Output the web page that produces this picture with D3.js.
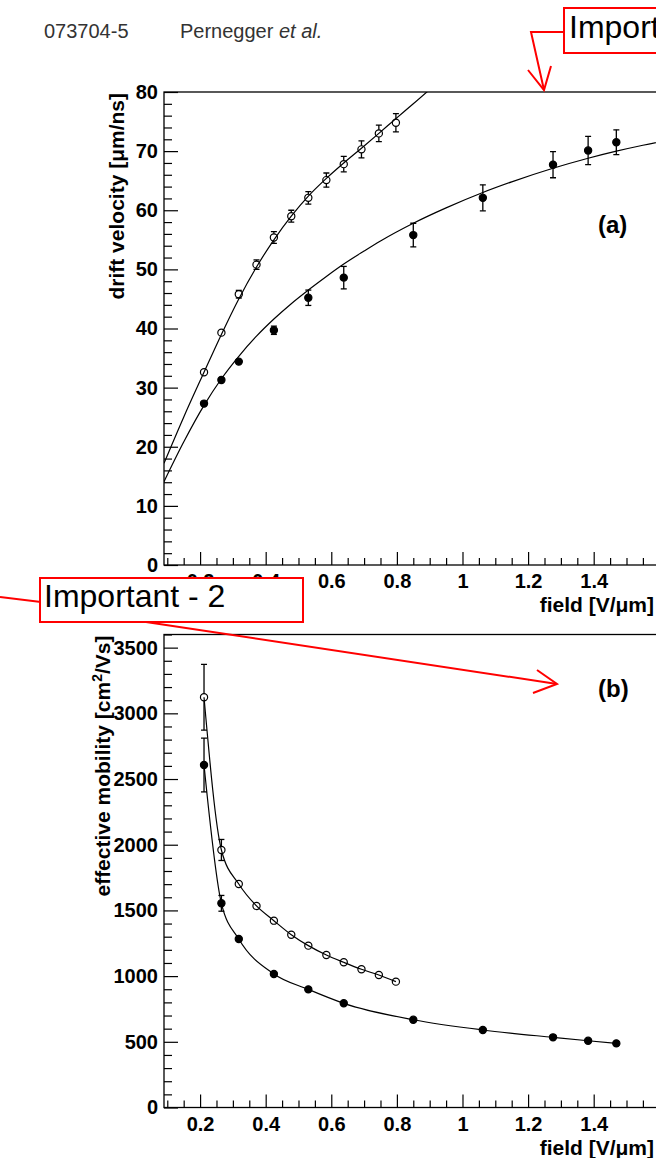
<!DOCTYPE html>
<html>
<head>
<meta charset="utf-8">
<script src="https://cdn.jsdelivr.net/npm/d3@7"></script>
<style>
  body { margin: 0; background: #fff; }
  svg { display: block; }
  text { font-family: "Liberation Sans", Arial, Helvetica, sans-serif; }
</style>
</head>
<body>
<svg id="chart" width="656" height="1158"></svg>
<script>
// measured field values [V/um]
const fieldOpen   = [0.212, 0.265, 0.318, 0.372, 0.425, 0.478, 0.530, 0.585, 0.638, 0.692, 0.745, 0.797];
const fieldFilled = [0.212, 0.265, 0.318, 0.425, 0.530, 0.638, 0.850, 1.062, 1.276, 1.383, 1.469];

// (a) drift velocity [um/ns]
const velocityOpen      = [32.6, 39.3, 45.8, 50.8, 55.4, 59.0, 62.1, 65.1, 67.8, 70.3, 73.0, 74.8];
const velocityOpenErr   = [0.3, 0.5, 0.65, 0.8, 1.0, 1.0, 1.05, 1.2, 1.3, 1.45, 1.4, 1.55];
const velocityFilled    = [27.3, 31.3, 34.4, 39.7, 45.2, 48.6, 55.8, 62.1, 67.7, 70.1, 71.5];
const velocityFilledErr = [0.3, 0.4, 0.5, 0.7, 1.3, 1.9, 2.0, 2.2, 2.2, 2.4, 2.1];

// (a) fit curves
const fitOpenField    = [0.09, 0.15, 0.212, 0.265, 0.318, 0.372, 0.425, 0.478, 0.53, 0.585, 0.638, 0.692, 0.745, 0.797, 0.85, 0.92];
const fitOpenVelocity = [17.2, 25.0, 32.6, 39.0, 45.0, 50.4, 55.0, 59.0, 62.4, 65.4, 68.0, 70.5, 73.0, 75.5, 78.0, 81.4];
const fitFilledField    = [0.09, 0.15, 0.212, 0.265, 0.318, 0.372, 0.425, 0.478, 0.53, 0.585, 0.638, 0.7, 0.75, 0.85, 0.95, 1.062, 1.15, 1.276, 1.383, 1.469, 1.55, 1.65];
const fitFilledVelocity = [14.1, 20.8, 27.0, 31.5, 35.3, 38.7, 41.6, 44.2, 46.5, 48.8, 50.9, 53.1, 54.8, 57.8, 60.4, 63.0, 64.8, 67.1, 68.8, 70.0, 71.0, 72.1];

// (b) effective mobility [cm^2/Vs]
const mobilityOpen      = [3122, 1960, 1701, 1534, 1422, 1315, 1232, 1161, 1105, 1052, 1008, 958];
const mobilityOpenErr   = [250, 80, 25, 20, 20, 15, 15, 15, 15, 15, 15, 15];
const mobilityFilled    = [2607, 1554, 1282, 1016, 899, 793, 668, 590, 534, 508, 488];
const mobilityFilledErr = [205, 60, 25, 20, 15, 15, 10, 10, 10, 10, 10];

// ticks
const fieldTicks = [0.2, 0.4, 0.6, 0.8, 1.0, 1.2, 1.4];
const fieldTickLabels = ["0.2", "0.4", "0.6", "0.8", "1", "1.2", "1.4"];
const fieldMinorTicks = d3.range(2, 33).map(i => i * 0.05).filter(v => Math.abs(v * 5 - Math.round(v * 5)) > 1e-6);
const velocityTicks = [0, 10, 20, 30, 40, 50, 60, 70, 80];
const velocityTickLabels = ["0", "10", "20", "30", "40", "50", "60", "70", "80"];
const velocityMinorTicks = d3.range(0, 81, 2).filter(v => v % 10 !== 0);
const mobilityTicks = [0, 500, 1000, 1500, 2000, 2500, 3000, 3500];
const mobilityTickLabels = ["0", "500", "1000", "1500", "2000", "2500", "3000", "3500"];
const mobilityMinorTicks = d3.range(0, 3601, 100).filter(v => v % 500 !== 0);

const svg = d3.select("#chart");
const RED = "#ff0000";

// shared x scale (both panels have the same field axis)
const x = d3.scaleLinear().domain([0.09, 1.65]).range([164, 675.7]);

function drawPanel(opts) {
    const y = d3.scaleLinear().domain(opts.yDomain).range(opts.yRange);
    const top = opts.yRange[1], bottom = opts.yRange[0];
    const left = x.range()[0], right = x.range()[1];
    const g = svg.append("g");

    g.append("clipPath").attr("id", opts.id + "-clip")
        .append("rect").attr("x", left).attr("y", top)
        .attr("width", right - left).attr("height", bottom - top);

    // y axis, ticks pointing into the frame
    g.append("g").attr("transform", `translate(${left},0)`)
        .call(d3.axisLeft(y).tickValues(opts.yTicks).tickSizeInner(-14).tickSizeOuter(0).tickPadding(6)
            .tickFormat((d, i) => opts.yTickLabels[i]));
    g.append("g").attr("transform", `translate(${left},0)`)
        .call(d3.axisLeft(y).tickValues(opts.yMinor).tickSizeInner(-8).tickSizeOuter(0).tickFormat(""));

    // x axis
    g.append("g").attr("transform", `translate(0,${bottom})`)
        .call(d3.axisBottom(x).tickValues(fieldTicks).tickSizeInner(-13).tickSizeOuter(0).tickPadding(9)
            .tickFormat((d, i) => fieldTickLabels[i]));
    g.append("g").attr("transform", `translate(0,${bottom})`)
        .call(d3.axisBottom(x).tickValues(fieldMinorTicks).tickSizeInner(-7).tickSizeOuter(0).tickFormat(""));

    g.selectAll(".domain").remove();
    g.selectAll(".tick line").attr("stroke", "#000").attr("stroke-width", 1.2);
    g.selectAll(".tick text").attr("fill", "#000").style("font-size", "20px").style("font-weight", "bold");

    // frame
    g.append("rect").attr("x", left).attr("y", top)
        .attr("width", right - left).attr("height", bottom - top)
        .attr("fill", "none").attr("stroke", "#000").attr("stroke-width", 1.3);

    // y title
    const yTitle = g.append("text")
        .attr("transform", `translate(${opts.yTitleX},${top + 1}) rotate(-90)`)
        .attr("text-anchor", "end")
        .style("font-size", "21px").style("font-weight", "bold");
    opts.yTitle(yTitle);

    // x title
    g.append("text").attr("x", 654).attr("y", bottom + 47)
        .attr("text-anchor", "end")
        .style("font-size", "21px").style("font-weight", "bold")
        .text("field [V/\u03bcm]");

    // panel tag
    g.append("text").attr("x", 598).attr("y", opts.tagY)
        .style("font-size", "24px").style("font-weight", "bold")
        .text(opts.tag);

    const plot = g.append("g").attr("clip-path", `url(#${opts.id}-clip)`);
    const line = d3.line().x(d => x(d[0])).y(d => y(d[1])).curve(d3.curveMonotoneX);

    opts.curves.forEach(c => {
        plot.append("path")
            .datum(d3.zip(c[0], c[1]))
            .attr("d", line)
            .attr("fill", "none").attr("stroke", "#000").attr("stroke-width", 1.2);
    });

    const r = 3.6;
    opts.series.forEach(s => {
        const pts = s.xs.map((xv, i) => ({ x: xv, v: s.ys[i], e: s.errs[i] }));
        const eb = plot.append("g").attr("stroke", "#000").attr("stroke-width", 1.3);
        pts.forEach(p => {
            const cx = x(p.x), cy = y(p.v);
            const yHi = y(p.v + p.e), yLo = y(p.v - p.e);
            if (cy - yHi > r) {
                eb.append("line").attr("x1", cx).attr("x2", cx).attr("y1", cy - r).attr("y2", yHi);
                eb.append("line").attr("x1", cx - 3).attr("x2", cx + 3).attr("y1", yHi).attr("y2", yHi);
            }
            if (yLo - cy > r) {
                eb.append("line").attr("x1", cx).attr("x2", cx).attr("y1", cy + r).attr("y2", yLo);
                eb.append("line").attr("x1", cx - 3).attr("x2", cx + 3).attr("y1", yLo).attr("y2", yLo);
            }
        });
        plot.append("g").selectAll("circle")
            .data(pts)
            .enter()
            .append("circle")
            .attr("cx", d => x(d.x))
            .attr("cy", d => y(d.v))
            .attr("r", r)
            .attr("fill", s.filled ? "#000" : "none")
            .attr("stroke", "#000")
            .attr("stroke-width", 1.2);
    });
}

// header
const header = svg.append("g").attr("fill", "#333").style("font-size", "20px");
header.append("text").attr("x", 44).attr("y", 38).text("073704-5");
const author = header.append("text").attr("x", 180).attr("y", 38);
author.append("tspan").text("Pernegger ");
author.append("tspan").style("font-style", "italic").text("et al.");

// panel (a)
drawPanel({
    id: "a",
    yDomain: [0, 80], yRange: [565, 92],
    yTicks: velocityTicks, yTickLabels: velocityTickLabels, yMinor: velocityMinorTicks,
    yTitleX: 124,
    yTitle: t => t.text("drift velocity [\u03bcm/ns]"),
    tag: "(a)", tagY: 233,
    curves: [[fitOpenField, fitOpenVelocity], [fitFilledField, fitFilledVelocity]],
    series: [
        { xs: fieldOpen, ys: velocityOpen, errs: velocityOpenErr, filled: false },
        { xs: fieldFilled, ys: velocityFilled, errs: velocityFilledErr, filled: true }
    ]
});

// panel (b)
drawPanel({
    id: "b",
    yDomain: [0, 3600], yRange: [1107.5, 634.5],
    yTicks: mobilityTicks, yTickLabels: mobilityTickLabels, yMinor: mobilityMinorTicks,
    yTitleX: 110,
    yTitle: t => {
        t.append("tspan").text("effective mobility [cm");
        t.append("tspan").attr("dy", -8).style("font-size", "14px").text("2");
        t.append("tspan").attr("dy", 8).text("/Vs]");
    },
    tag: "(b)", tagY: 697,
    curves: [[fieldOpen, mobilityOpen], [fieldFilled, mobilityFilled]],
    series: [
        { xs: fieldOpen, ys: mobilityOpen, errs: mobilityOpenErr, filled: false },
        { xs: fieldFilled, ys: mobilityFilled, errs: mobilityFilledErr, filled: true }
    ]
});

// red annotations
const notes = svg.append("g").attr("stroke", RED).attr("stroke-width", 2).attr("fill", "none");
notes.append("rect").attr("x", 564).attr("y", 8).attr("width", 110).attr("height", 45).attr("fill", "#fff");
notes.append("polyline").attr("points", "564,32 531,32 544,90");
notes.append("polyline").attr("points", "528,70 544,90 551,66");

notes.append("line").attr("x1", 0).attr("y1", 597).attr("x2", 41).attr("y2", 602);
notes.append("rect").attr("x", 40).attr("y", 578).attr("width", 263).attr("height", 44).attr("fill", "#fff");
notes.append("line").attr("x1", 146).attr("y1", 622).attr("x2", 557).attr("y2", 684);
notes.append("polyline").attr("points", "537,670 557,684 533,693");

svg.append("text").attr("x", 569).attr("y", 38).style("font-size", "32px").attr("fill", "#000").text("Important - 1");
svg.append("text").attr("x", 44).attr("y", 607).style("font-size", "32px").attr("fill", "#000").text("Important - 2");
</script>
</body>
</html>
